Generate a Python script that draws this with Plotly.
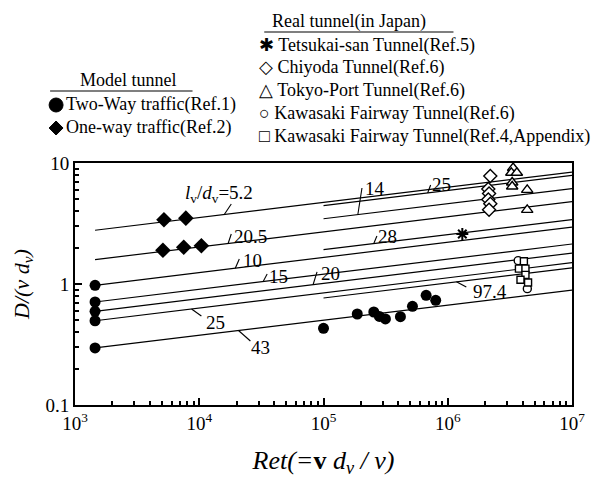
import math
import plotly.graph_objects as go

# ---------------- data ----------------
two_way_re = [1450, 1450, 1450, 1450, 1450, 1.0e5, 1.87e5, 2.54e5, 2.82e5, 3.15e5, 4.16e5, 5.2e5, 6.7e5, 8.0e5]
two_way_d = [0.976, 0.71, 0.595, 0.497, 0.296, 0.43, 0.565, 0.587, 0.54, 0.514, 0.537, 0.654, 0.806, 0.733]

one_way_re = [5.2e3, 7.8e3, 5.1e3, 7.5e3, 1.04e4]
one_way_d = [3.4, 3.5, 1.9, 2.01, 2.07]

tetsukai_re = [1.31e6]
tetsukai_d = [2.59]

chiyoda_re = [2.2e6, 2.12e6, 2.15e6, 2.12e6, 2.2e6, 2.15e6]
chiyoda_d = [7.8, 6.1, 5.6, 5.0, 4.6, 4.1]

tokyo_re = [3.36e6, 3.25e6, 3.6e6, 3.3e6, 3.3e6, 4.36e6, 4.36e6]
tokyo_d = [9.1, 8.3, 8.3, 6.9, 6.4, 6.0, 4.1]

kawasaki6_re = [3.69e6, 4.37e6]
kawasaki6_d = [1.56, 0.915]

kawasaki4_re = [4.1e6, 3.74e6, 4.22e6, 4.22e6, 3.85e6, 4.43e6]
kawasaki4_d = [1.54, 1.34, 1.34, 1.19, 1.085, 1.03]

# correlation lines  (l_v/d_v), value at start and end of each line
left_x = [1450, 1e7]
left_labels = ["5.2", "20.5", "10", "15", "20", "25", "43"]
left_start = [2.78, 1.59, 0.976, 0.71, 0.595, 0.497, 0.296]
left_end = [8.4, 4.8, 2.95, 2.14, 1.80, 1.50, 0.89]

right_x = [1e5, 1e7]
right_labels = ["14", "25", "28", "97.4"]
right_start = [3.46, 4.44, 1.92, 0.766]
right_end = [6.15, 7.9, 3.41, 1.36]

# line-label texts and positions
label_texts = ["<i>l</i><sub>v</sub>/<i>d</i><sub>v</sub>=5.2", "20.5", "10", "15", "20", "25", "43",
               "14", "25", "28", "97.4"]
label_re = [1.45e4, 2.6e4, 2.67e4, 4.35e4, 1.14e5, 1.36e4, 3.1e4, 2.6e5, 8.9e5, 3.3e5, 2.2e6]
label_d = [5.5, 2.45, 1.55, 1.16, 1.23, 0.485, 0.296, 6.1, 6.7, 2.45, 0.875]

# leader ticks from the labels to their lines: (re0, d0, re1, d1)
leaders = [
    (1.59e4, 3.75, 1.81e4, 4.58),
    (1.71e4, 2.17, 1.81e4, 2.59),
    (1.95e4, 1.35, 2.10e4, 1.61),
    (3.27e4, 1.05, 3.52e4, 1.21),
    (8.24e4, 0.986, 8.87e4, 1.26),
    (8.67e3, 0.622, 1.04e4, 0.544),
    (2.07e4, 0.413, 2.58e4, 0.338),
    (1.89e5, 3.75, 2.04e5, 6.21),
    (6.89e5, 5.65, 7.28e5, 6.58),
    (2.54e5, 2.16, 2.69e5, 2.49),
    (1.175e6, 1.043, 1.41e6, 0.944),
]

x_tickvals = [1e3, 1e4, 1e5, 1e6, 1e7]
x_ticktext = ["10<sup>3</sup>", "10<sup>4</sup>", "10<sup>5</sup>", "10<sup>6</sup>", "10<sup>7</sup>"]
y_tickvals = [0.1, 1, 10]
y_ticktext = ["0.1", "1", "10"]

SERIF = "Liberation Serif"

fig = go.Figure()

line_style = dict(color="black", width=1.2)
for s, e in zip(left_start, left_end):
    fig.add_trace(go.Scatter(x=left_x, y=[s, e], mode="lines", line=line_style, hoverinfo="skip"))
for s, e in zip(right_start, right_end):
    fig.add_trace(go.Scatter(x=right_x, y=[s, e], mode="lines", line=line_style, hoverinfo="skip"))
for (a, b, c, d) in leaders:
    fig.add_trace(go.Scatter(x=[a, c], y=[b, d], mode="lines", line=dict(color="black", width=1.1),
                             hoverinfo="skip"))

fig.add_trace(go.Scatter(x=two_way_re, y=two_way_d, mode="markers", name="Two-Way traffic(Ref.1)",
                         marker=dict(symbol="circle", size=11, color="black")))
fig.add_trace(go.Scatter(x=one_way_re, y=one_way_d, mode="markers", name="One-way traffic(Ref.2)",
                         marker=dict(symbol="diamond", size=12, color="black")))
open_m = dict(color="white", line=dict(color="black", width=1.4))
fig.add_trace(go.Scatter(x=tetsukai_re, y=tetsukai_d, mode="markers", name="Tetsukai-san Tunnel(Ref.5)",
                         marker=dict(symbol="asterisk-open", size=10, color="black",
                                     line=dict(color="black", width=2))))
fig.add_trace(go.Scatter(x=chiyoda_re, y=chiyoda_d, mode="markers", name="Chiyoda Tunnel(Ref.6)",
                         marker=dict(symbol="diamond", size=10, **open_m)))
fig.add_trace(go.Scatter(x=tokyo_re, y=tokyo_d, mode="markers", name="Tokyo-Port Tunnel(Ref.6)",
                         marker=dict(symbol="triangle-up", size=10, **open_m)))
fig.add_trace(go.Scatter(x=kawasaki6_re, y=kawasaki6_d, mode="markers", name="Kawasaki Fairway Tunnel(Ref.6)",
                         marker=dict(symbol="circle", size=8, **open_m)))
fig.add_trace(go.Scatter(x=kawasaki4_re, y=kawasaki4_d, mode="markers",
                         name="Kawasaki Fairway Tunnel(Ref.4,Appendix)",
                         marker=dict(symbol="square", size=7, **open_m)))

# ---------------- legend as text blocks ----------------
L, R, T, B = 65, 39, 155, 86
W, H = 603, 483
pw, ph = W - L - R, H - T - B


def px(xp):
    return (xp - L) / pw


def py(yp):
    return (H - B - yp) / ph


ann = []
# line labels, placed in data coordinates (log axes take log10 positions)
for t, xr, yd in zip(label_texts, label_re, label_d):
    ann.append(dict(text=t, x=math.log10(xr), y=math.log10(yd), xref="x", yref="y", showarrow=False,
                    xanchor="center", yanchor="middle",
                    font=dict(family=SERIF, size=19, color="black")))

legfont = dict(family=SERIF, size=18, color="black")
ann.append(dict(text="Real tunnel(in Japan)", x=px(340), y=py(13), xref="paper", yref="paper",
                showarrow=False, xanchor="center", yanchor="middle", font=legfont))
right_items = ["✱ Tetsukai-san Tunnel(Ref.5)", "◇ Chiyoda Tunnel(Ref.6)", "△ Tokyo-Port Tunnel(Ref.6)",
               "○ Kawasaki Fairway Tunnel(Ref.6)", "□ Kawasaki Fairway Tunnel(Ref.4,Appendix)"]
for i, t in enumerate(right_items):
    ann.append(dict(text=t, x=px(248), y=py(37 + 22.8 * i), xref="paper", yref="paper", showarrow=False,
                    xanchor="left", yanchor="middle", font=legfont))
ann.append(dict(text="Model tunnel", x=px(119), y=py(72), xref="paper", yref="paper",
                showarrow=False, xanchor="center", yanchor="middle", font=legfont))
left_items = ["Two-Way traffic(Ref.1)", "One-way traffic(Ref.2)"]
for i, t in enumerate(left_items):
    ann.append(dict(text=t, x=px(54), y=py(97 + 23 * i), xref="paper", yref="paper", showarrow=False,
                    xanchor="left", yanchor="middle", font=legfont))

shapes = [
    dict(type="line", xref="paper", yref="paper", x0=px(255), x1=px(445), y0=py(24), y1=py(24),
         line=dict(color="black", width=1.2)),
    dict(type="line", xref="paper", yref="paper", x0=px(40), x1=px(183), y0=py(83), y1=py(83),
         line=dict(color="black", width=1.2)),
    # legend symbols of the model-tunnel block
    dict(type="circle", xref="paper", yref="paper", x0=px(39), x1=px(53), y0=py(90), y1=py(104),
         fillcolor="black", line=dict(color="black", width=1)),
    dict(type="path", xref="paper", yref="paper",
         path="M {} {} L {} {} L {} {} L {} {} Z".format(px(39), py(120), px(46), py(113),
                                                         px(53), py(120), px(46), py(127)),
         fillcolor="black", line=dict(color="black", width=1)),
]

x_minor = [m * 10 ** k for k in range(3, 7) for m in range(2, 10)]
y_minor = [m * 10 ** k for k in range(-1, 1) for m in range(2, 10)]

axis_common = dict(showline=True, linecolor="black", linewidth=2, mirror=True, showgrid=False,
                   zeroline=False, ticks="inside", ticklen=7, tickwidth=1.5, tickcolor="black",
                   tickfont=dict(family=SERIF, size=19, color="black"))

fig.update_layout(
    width=W, height=H,
    margin=dict(l=L, r=R, t=T, b=B),
    paper_bgcolor="white", plot_bgcolor="white",
    showlegend=False,
    annotations=ann, shapes=shapes,
    xaxis=dict(type="log", range=[3, 7], tickmode="array", tickvals=x_tickvals, ticktext=x_ticktext,
               minor=dict(tickmode="array", tickvals=x_minor, ticks="inside", ticklen=4, tickcolor="black",
                          showgrid=False),
               title=dict(text="<i>Ret(=</i><b>v</b><i> d<sub>ν</sub> / ν)</i>",
                          font=dict(family=SERIF, size=26, color="black"), standoff=18),
               **axis_common),
    yaxis=dict(type="log", range=[-1, 1], tickmode="array", tickvals=y_tickvals, ticktext=y_ticktext,
               minor=dict(tickmode="array", tickvals=y_minor, ticks="inside", ticklen=4, tickcolor="black",
                          showgrid=False),
               title=dict(text="<i>D/(ν d<sub>ν</sub>)</i>", font=dict(family=SERIF, size=22, color="black"),
                          standoff=10),
               **axis_common),
)

fig.write_html("out.html")
